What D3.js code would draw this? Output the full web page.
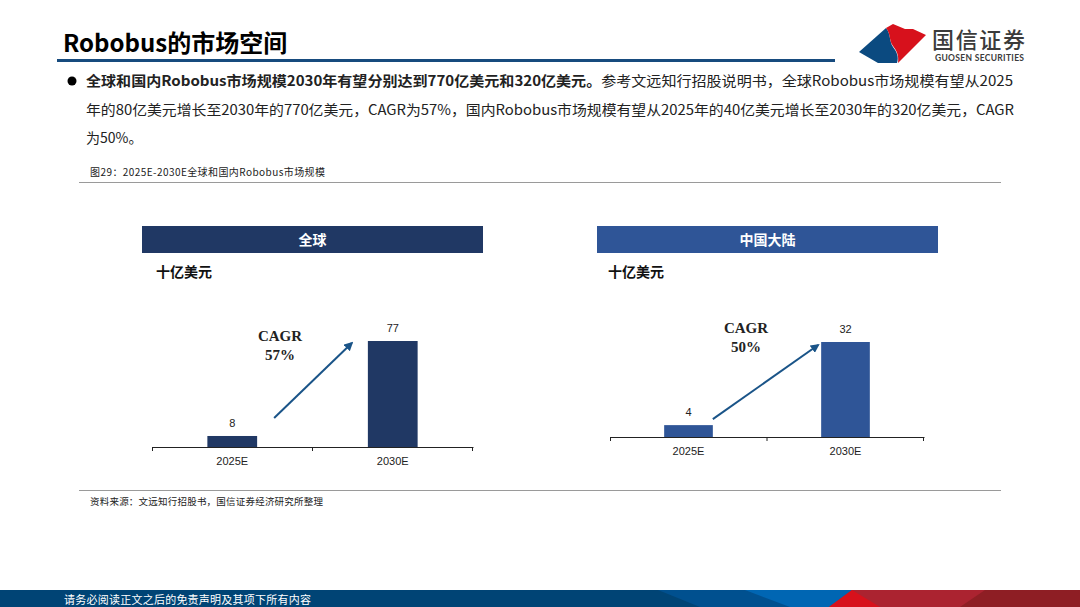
<!DOCTYPE html>
<html>
<head>
<meta charset="utf-8">
<script src="https://cdn.jsdelivr.net/npm/d3@7"></script>
<style>
  html, body { margin: 0; padding: 0; background: #fff; }
  svg { display: block; font-family: "Noto Sans CJK SC", "Noto Sans", sans-serif; }
</style>
</head>
<body>
<svg id="page" width="1080" height="607"></svg>
<script>
// --- Data ---
const categories = ["2025E", "2030E"];
const globalValues = [8, 77];
const chinaValues = [4, 32];
const panelTitles = ["全球", "中国大陆"];
const cagrLabels = ["57%", "50%"];
const unitLabel = "十亿美元";

const bodyLines = [
  [{ t: "全球和国内Robobus市场规模2030年有望分别达到770亿美元和320亿美元。", b: true },
   { t: "参考文远知行招股说明书，全球Robobus市场规模有望从2025", b: false }],
  [{ t: "年的80亿美元增长至2030年的770亿美元，CAGR为57%，国内Robobus市场规模有望从2025年的40亿美元增长至2030年的320亿美元，CAGR", b: false }],
  [{ t: "为50%。", b: false }]
];

// --- Setup ---
const svg = d3.select("#page");

// title
svg.append("text").attr("x", 63).attr("y", 52)
  .attr("font-size", 24).attr("font-weight", 700).attr("fill", "#000")
  .text("Robobus的市场空间");
svg.append("rect").attr("x", 57).attr("y", 59).attr("width", 778).attr("height", 3).attr("fill", "#174b7e");

// logo
const logo = svg.append("g");
logo.append("path").attr("fill", "#0b4a80")
  .attr("d", "M859,52 L886,28 C891,34 889,41 893,47 C897,52 899,57 897,63 L878,63 Z");
logo.append("path").attr("fill", "#d7111c")
  .attr("d", "M886,28 L893,24 L905,29 L913,29 L926,35 L898,63 C899,56 897,51 893,46 C889,41 891,34 886,28 Z");
logo.append("text").attr("x", 932).attr("y", 48).attr("font-size", 22).attr("font-weight", 500)
  .attr("fill", "#3b3b3b").attr("textLength", 93).text("国信证券");
logo.append("text").attr("x", 935).attr("y", 61).attr("font-size", 8.5).attr("font-weight", 700)
  .attr("fill", "#3b3b3b").attr("textLength", 89).attr("font-family", "Lato, 'Open Sans', sans-serif").text("GUOSEN SECURITIES");

// bullet paragraph
svg.append("circle").attr("cx", 72).attr("cy", 81).attr("r", 4.5).attr("fill", "#000");
const lineWidths = [927, 928, null];
bodyLines.forEach((parts, i) => {
  const t = svg.append("text").attr("x", 86).attr("y", 86 + i * 28.5)
    .attr("font-size", 14).attr("fill", "#222");
  if (lineWidths[i]) t.attr("textLength", lineWidths[i]).attr("lengthAdjust", "spacingAndGlyphs");
  parts.forEach(p => t.append("tspan").attr("font-weight", p.b ? 700 : 400).text(p.t));
});

// figure caption + rules
svg.append("text").attr("x", 90).attr("y", 176).attr("font-size", 10).attr("fill", "#222")
  .attr("textLength", 235).text("图29：2025E-2030E全球和国内Robobus市场规模");
svg.append("line").attr("x1", 79).attr("x2", 1001).attr("y1", 182.5).attr("y2", 182.5)
  .attr("stroke", "#9a9a9a").attr("stroke-width", 1);
svg.append("line").attr("x1", 79).attr("x2", 1001).attr("y1", 490.5).attr("y2", 490.5)
  .attr("stroke", "#9a9a9a").attr("stroke-width", 1);
svg.append("text").attr("x", 90).attr("y", 505).attr("font-size", 9.5).attr("fill", "#222")
  .attr("textLength", 233).text("资料来源：文远知行招股书，国信证券经济研究所整理");

// --- Panels ---
svg.append("defs").append("marker").attr("id", "arrowhead")
  .attr("viewBox", "0 0 10 10").attr("refX", 8).attr("refY", 5)
  .attr("markerWidth", 4.5).attr("markerHeight", 4.5).attr("orient", "auto")
  .append("path").attr("d", "M0,0 L10,5 L0,10 Z").attr("fill", "#1a5488");

const panels = [
  { values: globalValues, title: panelTitles[0], cagr: cagrLabels[0], color: "#203864",
    box: [142, 483], axis: [152, 473], base: 447, top: 341, unitX: 156,
    arrow: { x0: 17, y0: 18, x1: -16, y1: 2 }, cagrX: 128, cagrY: -111 },
  { values: chinaValues, title: panelTitles[1], cagr: cagrLabels[1], color: "#2f5597",
    box: [597, 938], axis: [610, 924], base: 437, top: 342, unitX: 608,
    arrow: { x0: 0, y0: 6, x1: -3, y1: 3 }, cagrX: 136, cagrY: -109 }
];

panels.forEach(p => {
  const g = svg.append("g");

  // header bar
  g.append("rect").attr("x", p.box[0]).attr("y", 226).attr("width", p.box[1] - p.box[0]).attr("height", 27)
    .attr("fill", p.color);
  g.append("text").attr("x", (p.box[0] + p.box[1]) / 2).attr("y", 245).attr("text-anchor", "middle")
    .attr("font-size", 14).attr("font-weight", 700).attr("fill", "#fff").text(p.title);
  g.append("text").attr("x", p.unitX).attr("y", 277).attr("font-size", 14).attr("font-weight", 700)
    .attr("fill", "#111").text(unitLabel);

  // scales
  const x = d3.scaleBand().domain(categories).range(p.axis).paddingInner(0.69).paddingOuter(0.345);
  const y = d3.scaleLinear().domain([0, d3.max(p.values)]).range([p.base, p.top]);

  // bars
  g.selectAll("rect.bar").data(p.values).join("rect").attr("class", "bar")
    .attr("x", (d, i) => x(categories[i])).attr("width", x.bandwidth())
    .attr("y", d => y(d)).attr("height", d => y(0) - y(d))
    .attr("fill", p.color);

  // value labels
  g.selectAll("text.val").data(p.values).join("text").attr("class", "val")
    .attr("x", (d, i) => x(categories[i]) + x.bandwidth() / 2)
    .attr("y", d => y(d) - 9).attr("text-anchor", "middle")
    .attr("font-family", "'Liberation Sans', Arial, sans-serif").attr("font-size", 11).attr("fill", "#222")
    .text(d => d);

  // axis
  const axis = g.append("g").attr("transform", `translate(0,${p.base})`)
    .call(d3.axisBottom(x).tickSize(0).tickPadding(10));
  axis.select(".domain").attr("stroke", "#222").attr("stroke-width", 1);
  axis.selectAll("text").attr("font-family", "'Liberation Sans', Arial, sans-serif")
    .attr("font-size", 11).attr("fill", "#222");
  const mid = (x(categories[0]) + x.bandwidth() + x(categories[1])) / 2;
  [p.axis[0] + 0.5, mid, p.axis[1] - 0.5].forEach(tx => {
    axis.append("line").attr("x1", tx).attr("x2", tx).attr("y1", 0).attr("y2", 4)
      .attr("stroke", "#222").attr("stroke-width", 1);
  });

  // CAGR arrow
  const ax0 = x(categories[0]) + x.bandwidth() + p.arrow.x0;
  const ay0 = y(p.values[0]) - p.arrow.y0;
  const ax1 = x(categories[1]) + p.arrow.x1;
  const ay1 = y(p.values[1]) + p.arrow.y1;
  g.append("line").attr("x1", ax0).attr("y1", ay0).attr("x2", ax1).attr("y2", ay1)
    .attr("stroke", "#1a5488").attr("stroke-width", 2).attr("marker-end", "url(#arrowhead)");

  const cx = p.axis[0] + p.cagrX;
  const cy = p.base + p.cagrY;
  g.append("text").attr("x", cx).attr("y", cy + 5).attr("text-anchor", "middle")
    .attr("font-family", "'Liberation Serif', 'Times New Roman', serif").attr("font-size", 15)
    .attr("font-weight", 700).attr("fill", "#222").text("CAGR");
  g.append("text").attr("x", cx).attr("y", cy + 24).attr("text-anchor", "middle")
    .attr("font-family", "'Liberation Serif', 'Times New Roman', serif").attr("font-size", 15)
    .attr("font-weight", 700).attr("fill", "#222").text(p.cagr);
});

// --- Footer band ---
const foot = svg.append("g");
foot.append("rect").attr("x", 0).attr("y", 590).attr("width", 1080).attr("height", 17).attr("fill", "#004475");
foot.append("path").attr("fill", "#00508f").attr("d", "M658,590 L1080,590 L1080,607 L700,607 Z");
foot.append("path").attr("fill", "#0066b3").attr("d", "M745,590 L1080,590 L1080,607 L790,607 Z");
foot.append("path").attr("fill", "#ab2330").attr("d", "M852,590 L1080,590 L1080,607 L829,607 Z");
foot.append("path").attr("fill", "#d7111c").attr("d", "M852,590 L880,607 L829,607 Z");
foot.append("path").attr("fill", "#8e1e24").attr("d", "M985,590 L1080,590 L1080,607 L960,607 Z");
foot.append("text").attr("x", 64).attr("y", 604).attr("font-size", 11).attr("fill", "#fff")
  .attr("textLength", 247).text("请务必阅读正文之后的免责声明及其项下所有内容");
</script>
</body>
</html>
